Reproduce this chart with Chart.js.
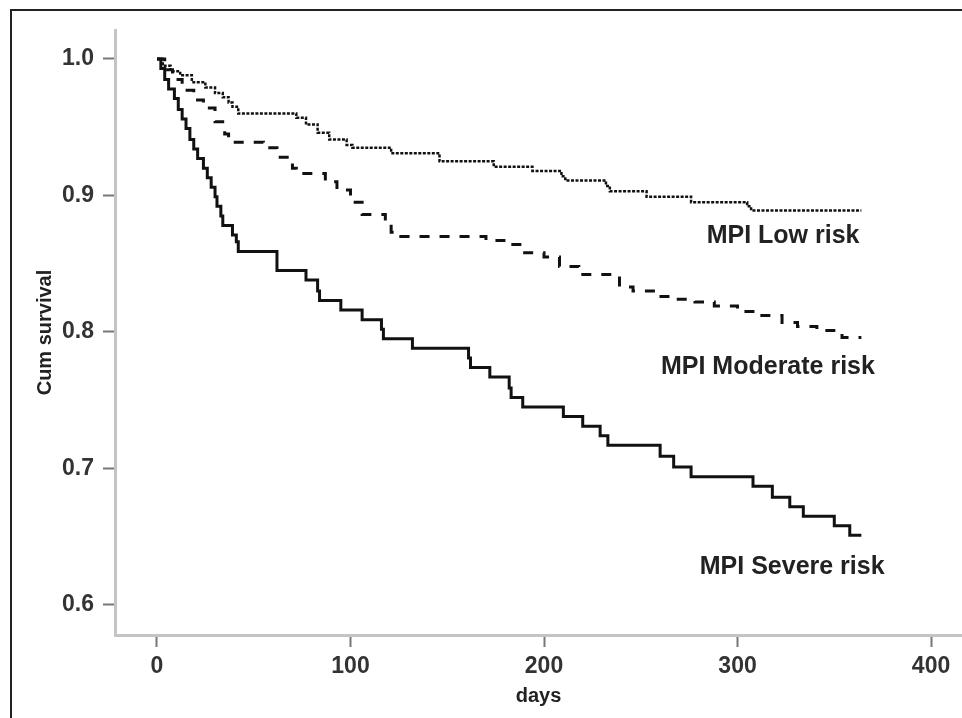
<!DOCTYPE html>
<html>
<head>
<meta charset="utf-8">
<title>Cumulative survival by MPI risk group</title>
<script src="https://cdn.jsdelivr.net/npm/chart.js@4.4.0/dist/chart.umd.min.js"></script>
<style>
  html, body { margin: 0; padding: 0; background: #fff; overflow: hidden; }
  /* open frame around the figure, cut off at right and bottom */
  #frame { position: absolute; left: 10px; top: 9px; width: 1000px; height: 800px;
           border-left: 2px solid #222; border-top: 2px solid #222; }
  #kmChart { position: absolute; left: 0; top: 0; }
</style>
</head>
<body>
<div id="frame"></div>
<canvas id="kmChart" width="962" height="718"></canvas>
<script>
// Kaplan-Meier steps: day of each drop and survival after it
const lowDays = [0, 3, 7, 12, 18, 25, 30, 34, 37, 39, 42, 72, 77, 83, 89, 98, 101, 121, 146, 174,
                 194, 209, 211, 232, 234, 253, 276, 305, 307, 364];
const lowSurv = [1.0, 0.995, 0.991, 0.988, 0.983, 0.979, 0.975, 0.972, 0.968, 0.965, 0.960, 0.957,
                 0.952, 0.946, 0.941, 0.937, 0.935, 0.931, 0.925, 0.921, 0.918, 0.914, 0.911, 0.907,
                 0.903, 0.899, 0.895, 0.892, 0.889, 0.889];

const moderateDays = [0, 4, 8, 13, 19, 24, 30, 35, 37, 55, 62, 70, 72, 87, 93, 100, 106, 118, 121, 126,
                      170, 182, 189, 200, 208, 218, 239, 246, 258, 266, 278, 288, 300, 311, 323, 331,
                      341, 354, 364];
const moderateSurv = [1.0, 0.992, 0.985, 0.977, 0.970, 0.964, 0.954, 0.945, 0.939, 0.935, 0.928, 0.920,
                      0.916, 0.910, 0.904, 0.895, 0.886, 0.881, 0.873, 0.870, 0.867, 0.864, 0.858,
                      0.855, 0.848, 0.842, 0.833, 0.830, 0.826, 0.824, 0.822, 0.819, 0.815, 0.812,
                      0.807, 0.804, 0.801, 0.796, 0.796];

const severeDays = [0, 2, 4, 6, 9, 11, 13, 15, 17, 19, 21, 24, 26, 28, 30, 31, 33, 34, 39, 41, 42, 62,
                    77, 83, 84, 95, 106, 116, 117, 132, 161, 162, 172, 182, 183, 189, 210, 220, 229,
                    233, 260, 267, 276, 308, 318, 327, 334, 350, 358, 364];
const severeSurv = [1.0, 0.993, 0.985, 0.978, 0.971, 0.963, 0.956, 0.949, 0.941, 0.934, 0.927, 0.920,
                    0.913, 0.906, 0.899, 0.892, 0.885, 0.878, 0.871, 0.866, 0.859, 0.845, 0.838,
                    0.830, 0.823, 0.816, 0.809, 0.802, 0.795, 0.788, 0.781, 0.774, 0.767, 0.759,
                    0.752, 0.745, 0.738, 0.731, 0.724, 0.717, 0.709, 0.701, 0.694, 0.687, 0.679,
                    0.672, 0.665, 0.658, 0.651, 0.651];

const xTicks = [0, 100, 200, 300, 400];
const yTicks = [0.6, 0.7, 0.8, 0.9, 1.0];

// curve names written next to the end of each curve (anchor = right edge, in data units)
const curveNames = ['MPI Low risk', 'MPI Moderate risk', 'MPI Severe risk'];
const nameDay = [363, 371, 376];
const nameSurv = [0.870, 0.774, 0.628];

const FONT = 'Arial, "Liberation Sans", Helvetica, sans-serif';

function toPoints(days, surv) {
    return days.map((d, i) => ({ x: d, y: surv[i] }));
}

function kmDataset(label, days, surv, width, dash) {
    return {
        label: label,
        data: toPoints(days, surv),
        stepped: true,
        borderColor: '#111',
        borderWidth: width,
        borderDash: dash,
        borderCapStyle: 'butt',
        pointRadius: 0,
        fill: false
    };
}

const curveNamePlugin = {
    id: 'curveNames',
    afterDatasetsDraw(chart) {
        const ctx = chart.ctx;
        const xs = chart.scales.x, ys = chart.scales.y;
        ctx.save();
        ctx.font = 'bold 25px ' + FONT;
        ctx.fillStyle = '#222';
        ctx.textAlign = 'right';
        ctx.textBaseline = 'middle';
        curveNames.forEach((name, i) => {
            ctx.fillText(name, xs.getPixelForValue(nameDay[i]), ys.getPixelForValue(nameSurv[i]));
        });
        ctx.restore();
    }
};

new Chart(document.getElementById('kmChart').getContext('2d'), {
    type: 'line',
    data: {
        datasets: [
            kmDataset('MPI Low risk', lowDays, lowSurv, 2.5, [3, 1.5]),
            kmDataset('MPI Moderate risk', moderateDays, moderateSurv, 3, [10, 10]),
            kmDataset('MPI Severe risk', severeDays, severeSurv, 3, [])
        ]
    },
    options: {
        responsive: false,
        animation: false,
        layout: { padding: { top: 30, right: 0, bottom: 0, left: 0 } },
        plugins: {
            legend: { display: false },
            tooltip: { enabled: false }
        },
        scales: {
            x: {
                type: 'linear',
                min: -21.7,
                max: 416,
                afterBuildTicks(scale) { scale.ticks = xTicks.map(v => ({ value: v })); },
                afterFit(scale) { scale.height = 83; },
                grid: { drawOnChartArea: false, tickLength: 12, tickWidth: 2, tickColor: '#777' },
                border: { color: '#c4c4c4', width: 3 },
                ticks: { color: '#333', padding: 6, font: { family: FONT, size: 23, weight: 'bold' } },
                title: {
                    display: true, text: 'days', color: '#222',
                    font: { family: FONT, size: 20, weight: 'bold' },
                    padding: { top: 0, bottom: 10 }
                }
            },
            y: {
                type: 'linear',
                min: 0.578,
                max: 1.0212,
                afterBuildTicks(scale) { scale.ticks = yTicks.map(v => ({ value: v })); },
                afterFit(scale) { scale.width = 115; },
                grid: { drawOnChartArea: false, tickLength: 12, tickWidth: 2, tickColor: '#777' },
                border: { color: '#c4c4c4', width: 3 },
                ticks: {
                    color: '#333', padding: 9,
                    font: { family: FONT, size: 23, weight: 'bold' },
                    callback: v => v.toFixed(1)
                },
                title: {
                    display: true, text: 'Cum survival', color: '#222',
                    font: { family: FONT, size: 20, weight: 'bold' },
                    padding: { top: 33, bottom: 0 }
                }
            }
        }
    },
    plugins: [curveNamePlugin]
});
</script>
</body>
</html>
